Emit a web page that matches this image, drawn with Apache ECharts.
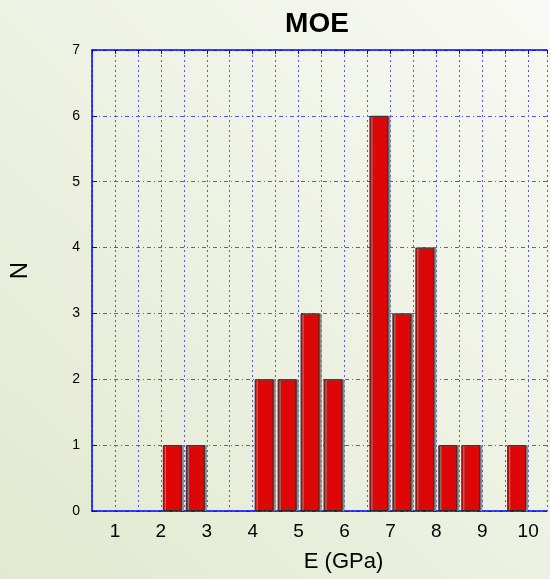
<!DOCTYPE html>
<html>
<head>
<meta charset="utf-8">
<script src="https://cdn.jsdelivr.net/npm/echarts@6/dist/echarts.min.js"></script>
<style>
  html, body { margin: 0; padding: 0; }
  #main { width: 550px; height: 579px; }
</style>
</head>
<body>
<div id="main"></div>
<script>
// histogram bins (left edge, GPa) and counts
var binStart = [0.5, 1.0, 1.5, 2.0, 2.5, 3.0, 3.5, 4.0, 4.5, 5.0, 5.5, 6.0, 6.5, 7.0, 7.5, 8.0, 8.5, 9.0, 9.5, 10.0];
var counts   = [0,   0,   0,   1,   1,   0,   0,   2,   2,   3,   2,   0,   6,   3,   4,   1,   1,   0,   1,   0];
var binWidth = 0.5;
var xTicks = [1, 2, 3, 4, 5, 6, 7, 8, 9, 10];
var yTicks = [0, 1, 2, 3, 4, 5, 6, 7];

var barData = [];
for (var i = 0; i < binStart.length; i++) {
  if (counts[i] > 0) barData.push([binStart[i] + binWidth / 2, counts[i]]);
}

var myChart = echarts.init(document.getElementById('main'));
var blue = '#0000ff';
var gridBlue = '#5656f4';
// the plot runs past the right edge of the picture (cut off near 10.4)
var xMin = 0.5, xMax = 10.41;
var option = {
  backgroundColor: {
    type: 'linear', x: 0, y: 1, x2: 1, y2: 0,
    colorStops: [
      { offset: 0, color: '#e1e9cf' },
      { offset: 1, color: '#f8f9f4' }
    ]
  },
  title: {
    text: 'MOE',
    left: 312,
    textAlign: 'center',
    top: 5,
    textStyle: { fontFamily: 'Liberation Sans', fontSize: 28, fontWeight: 'bold', color: '#000' }
  },
  grid: { left: 92, top: 50, right: 0, bottom: 68 },
  xAxis: [{
    type: 'value',
    min: xMin, max: xMax, interval: 0.5,
    name: 'E (GPa)',
    nameLocation: 'middle',
    nameGap: 40,
    nameTextStyle: { fontFamily: 'Liberation Sans', fontSize: 22, color: '#000', padding: [0, 0, 0, 48] },
    axisLine: { show: true, lineStyle: { color: blue, width: 1.5 } },
    axisTick: { show: false },
    axisLabel: {
      fontFamily: 'Liberation Sans', fontSize: 19, color: '#000', margin: 11,
      formatter: function (v) { return xTicks.indexOf(v) >= 0 ? String(v) : ''; }
    },
    splitLine: { show: true, lineStyle: { color: gridBlue, type: [2, 3], width: 1 } }
  }, {
    type: 'value',
    position: 'top',
    min: xMin, max: xMax, interval: 0.5,
    axisLine: { show: true, lineStyle: { color: blue, width: 1.5 } },
    axisTick: { show: true, inside: true, length: 4, lineStyle: { color: blue } },
    axisLabel: { show: false },
    splitLine: { show: false }
  }],
  yAxis: {
    type: 'value',
    min: 0, max: 7, interval: 1,
    name: 'N',
    nameLocation: 'middle',
    nameGap: 60,
    nameTextStyle: { fontFamily: 'Liberation Sans', fontSize: 24, color: '#000', padding: [0, 0, 0, 20] },
    axisLine: { show: true, lineStyle: { color: blue, width: 1.5 } },
    axisTick: { show: true, inside: true, length: 5, lineStyle: { color: blue } },
    axisLabel: {
      fontFamily: 'Liberation Sans', fontSize: 14, color: '#000', margin: 12,
      formatter: function (v) { return yTicks.indexOf(v) >= 0 ? String(v) : ''; }
    },
    splitLine: { show: true, lineStyle: { color: gridBlue, type: [4, 3, 1, 3], width: 1 } }
  },
  series: [{
    type: 'bar',
    data: barData,
    barWidth: 19,
    itemStyle: {
      color: '#dd0707',
      borderColor: '#2a2a2a',
      borderWidth: 1,
      shadowColor: '#8a8a8a',
      shadowOffsetX: 2,
      shadowBlur: 0
    },
    z: 3
  }]
};
myChart.setOption(option);
</script>
</body>
</html>
